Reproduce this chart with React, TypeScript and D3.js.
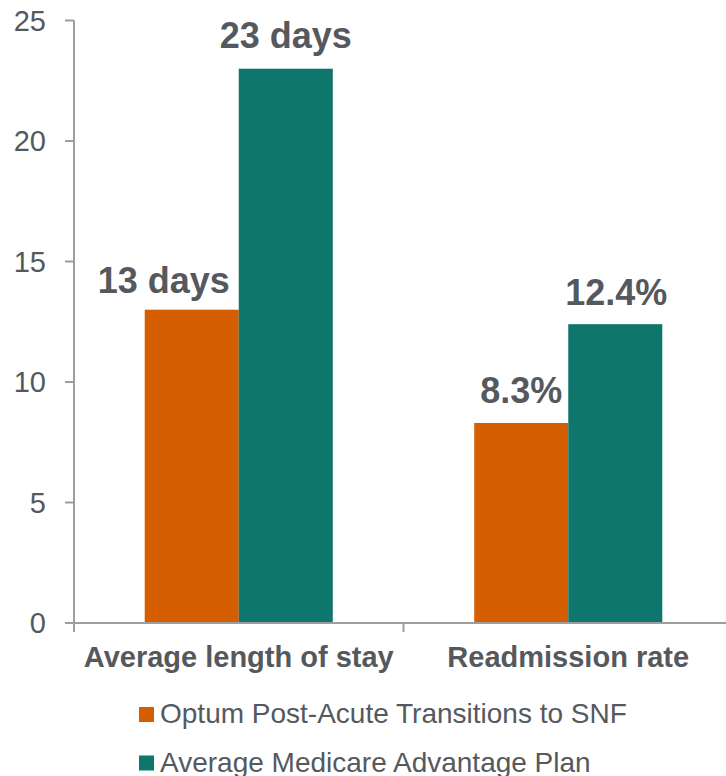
import React from "react";
import * as d3 from "d3";

const categories = ["Average length of stay", "Readmission rate"];
const seriesNames = ["Optum Post-Acute Transitions to SNF", "Average Medicare Advantage Plan"];
const optumValues = [13, 8.3];
const medicareValues = [23, 12.4];
const valueLabels = [
  ["13 days", "8.3%"],
  ["23 days", "12.4%"],
];
const yTicks = [0, 5, 10, 15, 20, 25];

const colors = ["#d55e00", "#0e766c"];
const textColor = "#55595e";
const axisColor = "#9e9e9e";
const font = "Arial, 'Liberation Sans', Helvetica, sans-serif";

const W = 726;
const H = 776;

export default function App() {
  const values = [optumValues, medicareValues];
  const y = d3.scaleLinear().domain([0, 25]).range([623, 20.5]);
  const x0 = d3.scaleBand<string>().domain(categories).range([74, 733]).padding(0);
  const x1 = d3
    .scaleBand<string>()
    .domain(seriesNames)
    .range([0, x0.bandwidth()])
    .paddingInner(0)
    .paddingOuter(0.752);

  // per-label horizontal nudges (first category's short bar label sits left of center)
  const labelOffsets = [
    [-28, 0],
    [0, 1],
  ];
  const labelGaps = [
    [17, 20],
    [21, 19],
  ];

  return (
    <svg
      width={W}
      height={H}
      style={{ position: "absolute", left: 0, top: 0, background: "#fff" }}
      fontFamily={font}
    >
      {/* bars */}
      {seriesNames.map((s, si) =>
        categories.map((c, ci) => {
          const v = values[si][ci];
          const bx = (x0(c) ?? 0) + (x1(s) ?? 0);
          return (
            <rect
              key={`${s}-${c}`}
              x={bx}
              y={y(v)}
              width={x1.bandwidth()}
              height={y(0) - y(v)}
              fill={colors[si]}
            />
          );
        })
      )}

      {/* value labels */}
      {seriesNames.map((s, si) =>
        categories.map((c, ci) => {
          const v = values[si][ci];
          const cx = (x0(c) ?? 0) + (x1(s) ?? 0) + x1.bandwidth() / 2 + labelOffsets[si][ci];
          return (
            <text
              key={`lbl-${s}-${c}`}
              x={cx}
              y={y(v) - labelGaps[si][ci]}
              textAnchor="middle"
              fontSize={36}
              fontWeight="bold"
              fill={textColor}
            >
              {valueLabels[si][ci]}
            </text>
          );
        })
      )}

      {/* y axis */}
      <line x1={74} x2={74} y1={y(25)} y2={y(0)} stroke={axisColor} strokeWidth={2} />
      {yTicks.map((t) => (
        <g key={`yt-${t}`}>
          <line x1={65} x2={74} y1={y(t)} y2={y(t)} stroke={axisColor} strokeWidth={2} />
          <text
            x={46}
            y={y(t)}
            dy="0.35em"
            textAnchor="end"
            fontSize={29}
            fill={textColor}
          >
            {t}
          </text>
        </g>
      ))}

      {/* x axis */}
      <line x1={73} x2={733} y1={y(0)} y2={y(0)} stroke={axisColor} strokeWidth={2} />
      {[...categories.map((c) => x0(c) ?? 0), x0.range()[1]].map((tx, i) => (
        <line
          key={`xt-${i}`}
          x1={tx}
          x2={tx}
          y1={y(0)}
          y2={y(0) + 9}
          stroke={axisColor}
          strokeWidth={2}
        />
      ))}
      {categories.map((c) => (
        <text
          key={`cat-${c}`}
          x={(x0(c) ?? 0) + x0.bandwidth() / 2}
          y={667}
          textAnchor="middle"
          fontSize={29}
          fontWeight="bold"
          fill={textColor}
        >
          {c}
        </text>
      ))}

      {/* legend */}
      {seriesNames.map((s, i) => (
        <g key={`leg-${s}`} transform={`translate(139, ${707 + i * 48.5})`}>
          <rect x={0} y={0} width={15} height={15} fill={colors[i]} />
          <text x={21} y={16} fontSize={28} fill={textColor}>
            {s}
          </text>
        </g>
      ))}
    </svg>
  );
}
